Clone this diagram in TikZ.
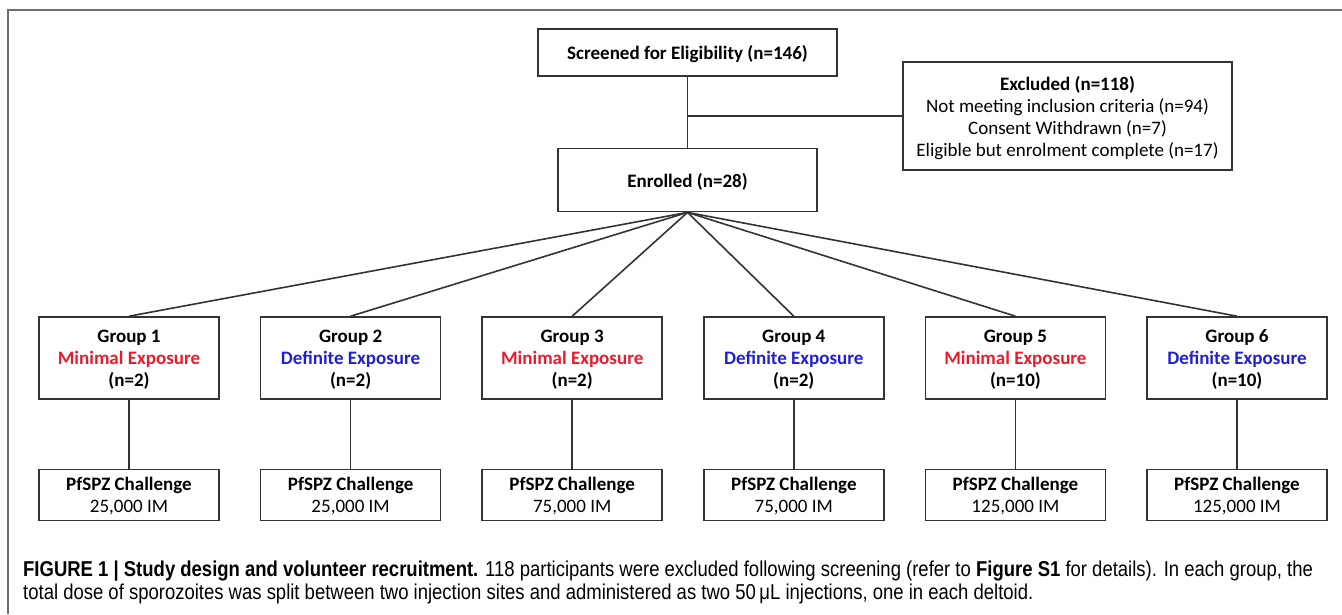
\documentclass[tikz,border=0pt]{standalone}
\usepackage{fontspec}
\setmainfont{Carlito}
\newfontfamily\capfont[FakeStretch=0.86]{Liberation Sans}
\usetikzlibrary{positioning}
\definecolor{minimalred}{RGB}{232,28,44}
\definecolor{definiteblue}{RGB}{32,32,214}
\definecolor{framegray}{RGB}{110,110,110}
\tikzstyle{flowbox} = [
	rectangle,
	draw=black!80,
	line width=1.6pt,
	inner sep=0pt,
	align=center,
	text depth=0pt,
	font=\fontsize{19}{22}\selectfont
]
\tikzstyle{topbox} = [
	flowbox,
	minimum width=299pt,
	minimum height=47pt,
	font=\bfseries\fontsize{19}{22}\selectfont
]
\tikzstyle{enrolbox} = [
	flowbox,
	minimum width=259pt,
	minimum height=63pt,
	font=\bfseries\fontsize{19}{22}\selectfont
]
\tikzstyle{exclbox} = [
	flowbox,
	minimum width=329pt,
	minimum height=108pt,
	text depth=-4pt
]
\tikzstyle{groupbox} = [
	flowbox,
	minimum width=180pt,
	minimum height=82pt,
	text depth=-6pt,
	font=\bfseries\fontsize{19}{22}\selectfont
]
\tikzstyle{challengebox} = [
	flowbox,
	minimum width=180pt,
	minimum height=51pt,
	text depth=-5pt
]
\tikzstyle{line} = [draw=black!80, line width=1.6pt]
\newcommand{\minimal}{\textcolor{minimalred}{Minimal Exposure}}
\newcommand{\definite}{\textcolor{definiteblue}{Definite Exposure}}
\begin{document}
\begin{tikzpicture}[x=1pt, y=1pt, node distance=40pt]
	\useasboundingbox (0,0) rectangle (1342,-614);
	\draw [framegray, line width=2pt] (8,-614) -- (8,-10) -- (1342,-10);

		\node (screened) [topbox] at (687.5,-52.5) {Screened for Eligibility (n=146)};
		\node (enrolled) [enrolbox, below=71pt of screened] {Enrolled (n=28)};
		\node (excluded) [exclbox] at (1067.5,-116) {\textbf{Excluded (n=118)}\\Not meeting inclusion criteria (n=94)\\Consent Withdrawn (n=7)\\Eligible but enrolment complete (n=17)};

		\node (group1) [groupbox] at (129,-358) {Group 1\\\minimal\\(n=2)};
		\node (group2) [groupbox, right=of group1] {Group 2\\\definite\\(n=2)};
		\node (group3) [groupbox, right=of group2] {Group 3\\\minimal\\(n=2)};
		\node (group4) [groupbox, right=of group3] {Group 4\\\definite\\(n=2)};
		\node (group5) [groupbox, right=of group4] {Group 5\\\minimal\\(n=10)};
		\node (group6) [groupbox, right=of group5] {Group 6\\\definite\\(n=10)};

		\node (challenge1) [challengebox, below=69pt of group1] {\textbf{PfSPZ Challenge}\\25,000 IM};
		\node (challenge2) [challengebox, below=69pt of group2] {\textbf{PfSPZ Challenge}\\25,000 IM};
		\node (challenge3) [challengebox, below=69pt of group3] {\textbf{PfSPZ Challenge}\\75,000 IM};
		\node (challenge4) [challengebox, below=69pt of group4] {\textbf{PfSPZ Challenge}\\75,000 IM};
		\node (challenge5) [challengebox, below=69pt of group5] {\textbf{PfSPZ Challenge}\\125,000 IM};
		\node (challenge6) [challengebox, below=69pt of group6] {\textbf{PfSPZ Challenge}\\125,000 IM};

		\node (caption) [anchor=north west, inner sep=0pt, align=left, font=\capfont\fontsize{21.5}{23}\selectfont] at (23,-561) {\textbf{FIGURE 1 | Study design and volunteer recruitment.} 118 participants were excluded following screening (refer to \textbf{Figure S1} for details). In each group, the\\total dose of sporozoites was split between two injection sites and administered as two 50\,μL injections, one in each deltoid.};

		\draw [line] (screened) -- (enrolled);
		\draw [line] (excluded.west) -- (excluded.west -| screened.south);

		\draw [line] (enrolled.south) -- (group1.north);
		\draw [line] (enrolled.south) -- (group2.north);
		\draw [line] (enrolled.south) -- (group3.north);
		\draw [line] (enrolled.south) -- (group4.north);
		\draw [line] (enrolled.south) -- (group5.north);
		\draw [line] (enrolled.south) -- (group6.north);

		\draw [line] (group1) -- (challenge1);
		\draw [line] (group2) -- (challenge2);
		\draw [line] (group3) -- (challenge3);
		\draw [line] (group4) -- (challenge4);
		\draw [line] (group5) -- (challenge5);
		\draw [line] (group6) -- (challenge6);
	\end{tikzpicture}
\end{document}
